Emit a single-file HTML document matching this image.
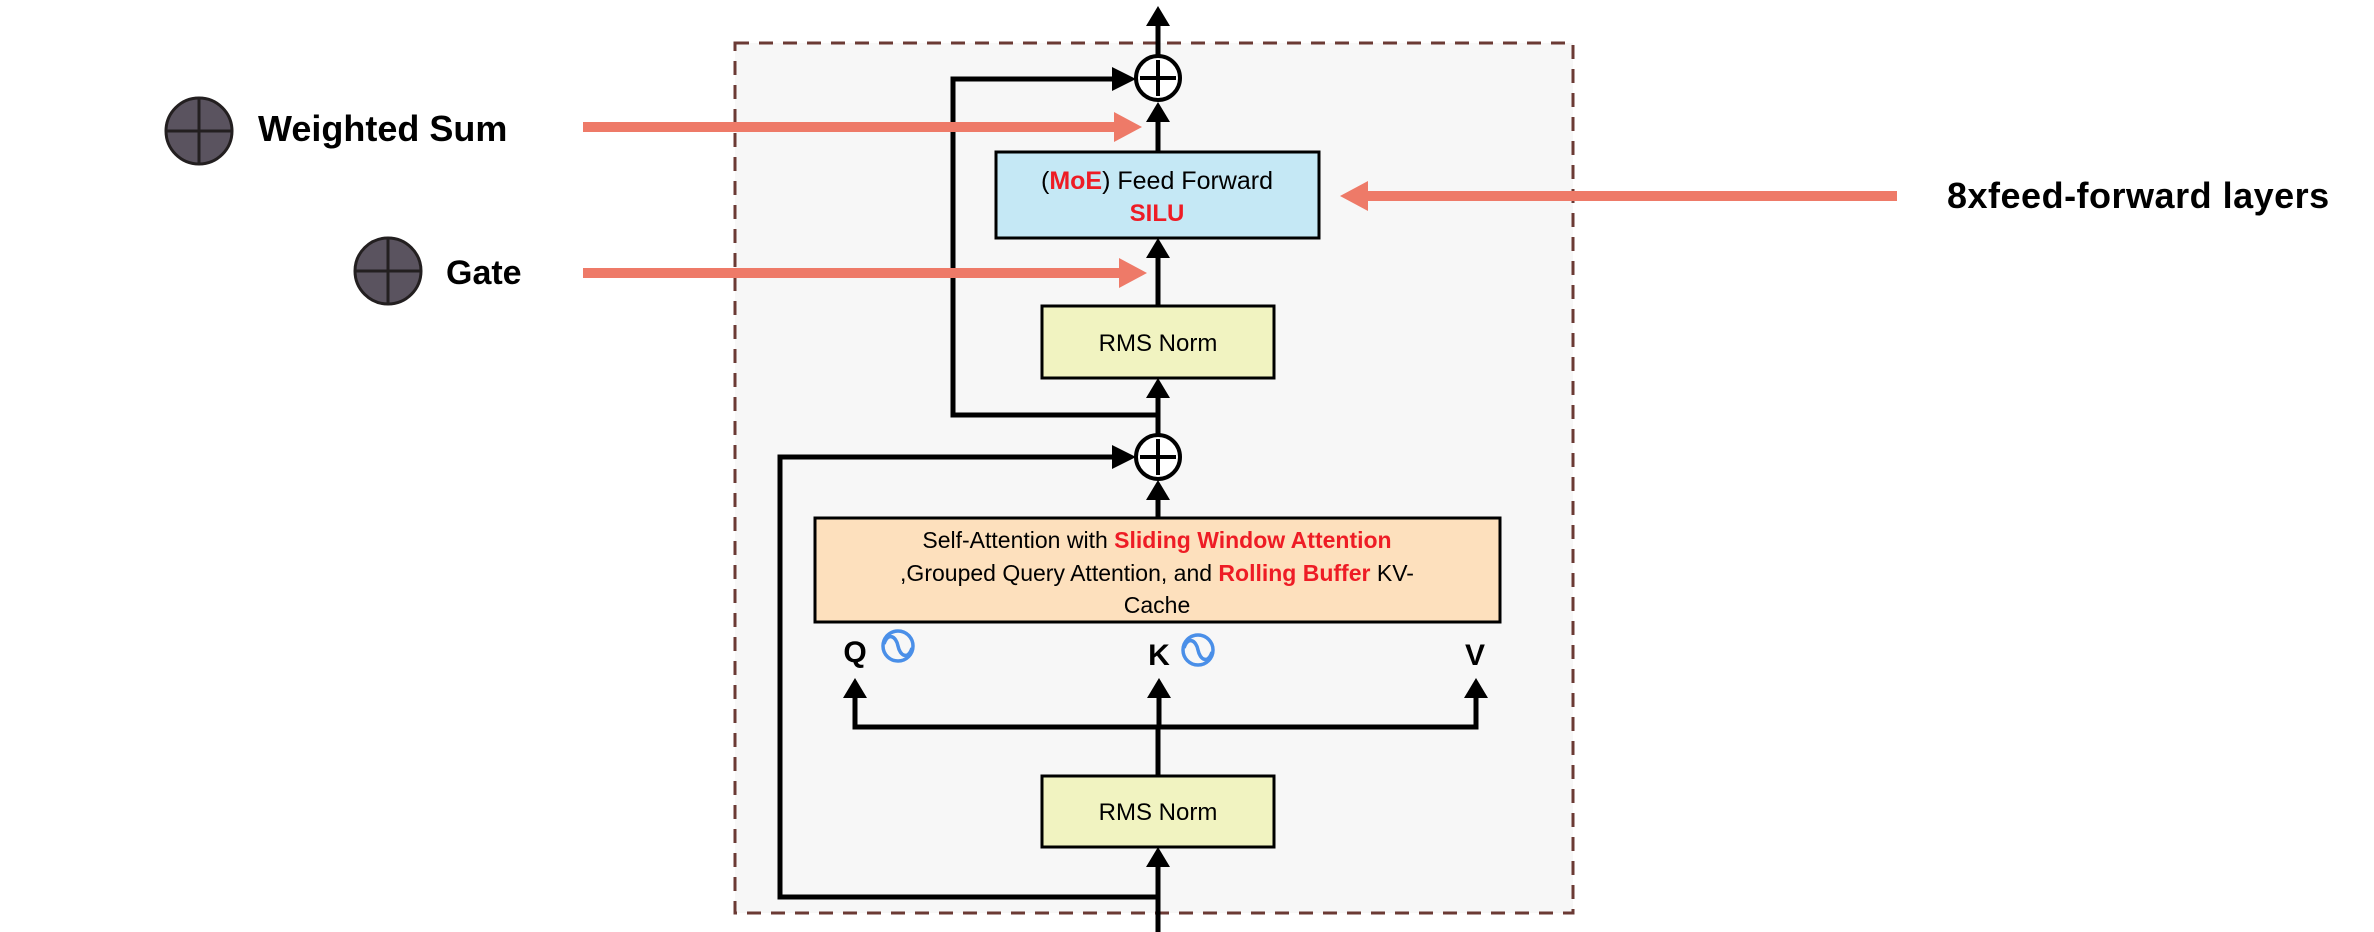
<!DOCTYPE html>
<html><head><meta charset="utf-8"><style>
html,body{margin:0;padding:0;background:#fff;}
svg{display:block;}
text{font-family:"Liberation Sans",sans-serif;}
</style></head><body>
<svg width="2374" height="932" viewBox="0 0 2374 932" xmlns="http://www.w3.org/2000/svg">
<!-- dashed container -->
<rect x="735" y="43" width="838" height="870" fill="#f7f7f7" stroke="#6b3a34" stroke-width="3" stroke-dasharray="14,10"/>

<g stroke="#000" stroke-width="5" fill="none">
<line x1="1158" y1="56" x2="1158" y2="22"/>
<polyline points="1158,415 953,415 953,79 1118,79"/>
<polyline points="1158,897 780,897 780,457 1118,457"/>
<line x1="1158" y1="152" x2="1158" y2="118"/>
<line x1="1158" y1="306" x2="1158" y2="254"/>
<line x1="1158" y1="435" x2="1158" y2="394"/>
<line x1="1158" y1="518" x2="1158" y2="496"/>
<line x1="1158" y1="932" x2="1158" y2="864"/>
<line x1="1158" y1="776" x2="1158" y2="727"/>
<polyline points="855,695 855,727 1476,727 1476,695"/>
<line x1="1159" y1="727" x2="1159" y2="695"/>
</g>
<g fill="#000">
<path d="M1146,26 L1158,6 L1170,26 z"/>
<path d="M1112,67 L1136,79 L1112,91 z"/>
<path d="M1112,445 L1136,457 L1112,469 z"/>
<path d="M1146,122 L1158,102 L1170,122 z"/>
<path d="M1146,258 L1158,238 L1170,258 z"/>
<path d="M1146,398 L1158,378 L1170,398 z"/>
<path d="M1146,500 L1158,480 L1170,500 z"/>
<path d="M1146,867 L1158,847 L1170,867 z"/>
<path d="M843,698 L855,678 L867,698 z"/>
<path d="M1147,698 L1159,678 L1171,698 z"/>
<path d="M1464,698 L1476,678 L1488,698 z"/>
</g>
<g stroke="#000" stroke-width="4" fill="#fff">
<circle cx="1158" cy="78" r="22"/>
<circle cx="1158" cy="457" r="22"/>
</g>
<g stroke="#000" stroke-width="4">
<line x1="1158" y1="60" x2="1158" y2="96"/><line x1="1140" y1="78" x2="1176" y2="78"/>
<line x1="1158" y1="439" x2="1158" y2="475"/><line x1="1140" y1="457" x2="1176" y2="457"/>
</g>

<rect x="996" y="152" width="323" height="86" fill="#c5e8f5" stroke="#000" stroke-width="3"/>
<text x="1157" y="189" font-size="25" text-anchor="middle" fill="#000">(<tspan fill="#ee1c25" font-weight="bold">MoE</tspan>) Feed Forward</text>
<text x="1157" y="221" font-size="24" text-anchor="middle" fill="#ee1c25" font-weight="bold">SILU</text>

<rect x="1042" y="306" width="232" height="72" fill="#f1f3c1" stroke="#000" stroke-width="3"/>
<text x="1158" y="351" font-size="24" text-anchor="middle">RMS Norm</text>

<rect x="815" y="518" width="685" height="104" fill="#fde0bd" stroke="#000" stroke-width="3"/>
<text x="1157" y="548" font-size="23" text-anchor="middle">Self-Attention with <tspan fill="#ee1c25" font-weight="bold">Sliding Window Attention</tspan></text>
<text x="1157" y="581" font-size="23" text-anchor="middle">,Grouped Query Attention, and <tspan fill="#ee1c25" font-weight="bold">Rolling Buffer</tspan> KV-</text>
<text x="1157" y="613" font-size="23" text-anchor="middle">Cache</text>

<text x="855" y="662" font-size="30" font-weight="bold" text-anchor="middle">Q</text>
<text x="1159" y="665" font-size="30" font-weight="bold" text-anchor="middle">K</text>
<text x="1475" y="665" font-size="30" font-weight="bold" text-anchor="middle">V</text>
<g fill="none" stroke="#4a8fe8" stroke-width="3.5">
<circle cx="898" cy="646" r="15"/>
<path d="M884,644 C888,632 896,636 898,646 C900,656 908,660 912,648"/>
<circle cx="1198" cy="650" r="15"/>
<path d="M1184,648 C1188,636 1196,640 1198,650 C1200,660 1208,664 1212,652"/>
</g>

<rect x="1042" y="776" width="232" height="71" fill="#f1f3c1" stroke="#000" stroke-width="3"/>
<text x="1158" y="820" font-size="24" text-anchor="middle">RMS Norm</text>

<g fill="#ee7a68">
<rect x="583" y="122" width="533" height="10"/>
<path d="M1114,112 L1142,127 L1114,142 z"/>
<rect x="583" y="268" width="538" height="10"/>
<path d="M1119,258 L1147,273 L1119,288 z"/>
<rect x="1366" y="191" width="531" height="10"/>
<path d="M1368,181 L1340,196 L1368,211 z"/>
</g>

<g stroke="#231f20" stroke-width="3" fill="#5a535f">
<circle cx="199" cy="131" r="33"/>
<circle cx="388" cy="271" r="33"/>
</g>
<g stroke="#231f20" stroke-width="3">
<line x1="199" y1="98" x2="199" y2="164"/><line x1="166" y1="131" x2="232" y2="131"/>
<line x1="388" y1="238" x2="388" y2="304"/><line x1="355" y1="271" x2="421" y2="271"/>
</g>
<text x="258" y="141" font-size="36" font-weight="bold">Weighted Sum</text>
<text x="446" y="284" font-size="34" font-weight="bold">Gate</text>
<text x="1947" y="208" font-size="36" font-weight="bold" letter-spacing="0.5">8xfeed-forward layers</text>
</svg>
</body></html>
